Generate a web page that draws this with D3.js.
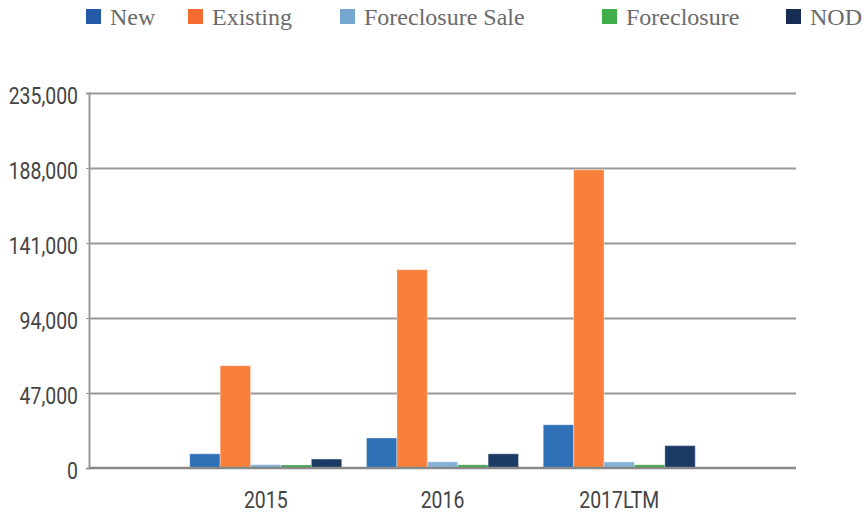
<!DOCTYPE html>
<html>
<head>
<meta charset="utf-8">
<script src="https://cdn.jsdelivr.net/npm/d3@7"></script>
<style>
  body { margin: 0; background: #fff; }
  .axis text { font-family: "Roboto", sans-serif; font-size: 24px; fill: #444; }
  .legend text { font-family: "Liberation Serif", "DejaVu Serif", serif; font-size: 24px; fill: #6a6a6a; }
</style>
</head>
<body>
<div id="chart"></div>
<script>
// chart data
var years = ['2015', '2016', '2017LTM'];
var seriesNames = ['New', 'Existing', 'Foreclosure Sale', 'Foreclosure', 'NOD'];
var newVals = [8900, 18800, 27100];
var existingVals = [64100, 124300, 186900];
var foreclosureSaleVals = [2100, 3900, 3800];
var foreclosureVals = [1900, 2000, 2000];
var nodVals = [5600, 8900, 14000];
var yTicks = [0, 47000, 94000, 141000, 188000, 235000];

var seriesVals = [newVals, existingVals, foreclosureSaleVals, foreclosureVals, nodVals];
var barColors = ['#2f70b7', '#f9803a', '#84b1d7', '#3ea548', '#1c3b64'];
var legendColors = ['#255aa9', '#f46b2f', '#75a7d0', '#40ae4a', '#172d53'];
// legend item positions (the original legend is not evenly spaced)
var legendX = [86, 188, 340, 602, 786];

var width = 867;
var height = 516;
var plotLeft = 89, plotRight = 796, plotTop = 93, plotBottom = 468;
// the axis font in the original is a condensed face, squeeze Roboto to match
var squeeze = 0.81;

var svg = d3.select('#chart')
  .append('svg')
  .attr('width', width)
  .attr('height', height);

var x0 = d3.scaleBand()
  .domain(years)
  .range([plotLeft, plotRight])
  .paddingInner(0.14)
  .paddingOuter(0.57);

var x1 = d3.scaleBand()
  .domain(seriesNames)
  .range([0, x0.bandwidth()]);

var y = d3.scaleLinear()
  .domain([0, 235000])
  .range([plotBottom, plotTop]);

// gridlines
svg.append('g')
  .attr('transform', 'translate(' + plotLeft + ',0)')
  .call(d3.axisLeft(y).tickValues(yTicks.slice(1)).tickSize(-(plotRight - plotLeft)).tickFormat(''))
  .call(function(g) { g.select('.domain').remove(); })
  .selectAll('line')
  .attr('stroke', '#999')
  .attr('stroke-width', 2);

// bars
var groups = svg.append('g')
  .selectAll('g')
  .data(years)
  .enter()
  .append('g')
  .attr('transform', function(d) { return 'translate(' + x0(d) + ',0)'; });

groups.selectAll('rect')
  .data(function(d, i) {
    return seriesNames.map(function(s, j) { return { name: s, value: seriesVals[j][i], idx: j }; });
  })
  .enter()
  .append('rect')
  .attr('x', function(d) { return x1(d.name); })
  .attr('y', function(d) { return y(d.value); })
  .attr('width', x1.bandwidth())
  .attr('height', function(d) { return y(0) - y(d.value); })
  .attr('fill', function(d) { return barColors[d.idx]; })
  .attr('stroke', 'rgba(255,255,255,0.35)')
  .attr('stroke-width', 1);

// y axis
var yAxis = svg.append('g')
  .attr('class', 'axis')
  .attr('transform', 'translate(' + plotLeft + ',0)')
  .call(d3.axisLeft(y).tickValues(yTicks).tickFormat(d3.format(',')).tickSize(3).tickPadding(8));
yAxis.select('.domain').attr('stroke', '#999').attr('stroke-width', 2);
yAxis.selectAll('line').attr('stroke', '#999').attr('stroke-width', 1);
yAxis.selectAll('text')
  .attr('x', -11 / squeeze)
  .attr('dy', '0.42em')
  .attr('transform', 'scale(' + squeeze + ',1)');

// baseline
svg.append('line')
  .attr('x1', plotLeft)
  .attr('x2', plotRight)
  .attr('y1', y(0))
  .attr('y2', y(0))
  .attr('stroke', '#888')
  .attr('stroke-width', 2.5);

// x axis labels
var xAxis = svg.append('g')
  .attr('class', 'axis')
  .attr('transform', 'translate(0,' + plotBottom + ')')
  .call(d3.axisBottom(x0).tickSize(0).tickPadding(23));
xAxis.select('.domain').remove();
xAxis.selectAll('text').attr('transform', 'scale(' + squeeze + ',1)');

// legend
var legend = svg.append('g')
  .attr('class', 'legend')
  .selectAll('g')
  .data(seriesNames)
  .enter()
  .append('g')
  .attr('transform', function(d, i) { return 'translate(' + legendX[i] + ',0)'; });

legend.append('rect')
  .attr('x', 0)
  .attr('y', 9)
  .attr('width', 15)
  .attr('height', 15)
  .attr('fill', function(d, i) { return legendColors[i]; });

legend.append('text')
  .attr('x', 24)
  .attr('y', 25)
  .text(function(d) { return d; });
</script>
</body>
</html>
